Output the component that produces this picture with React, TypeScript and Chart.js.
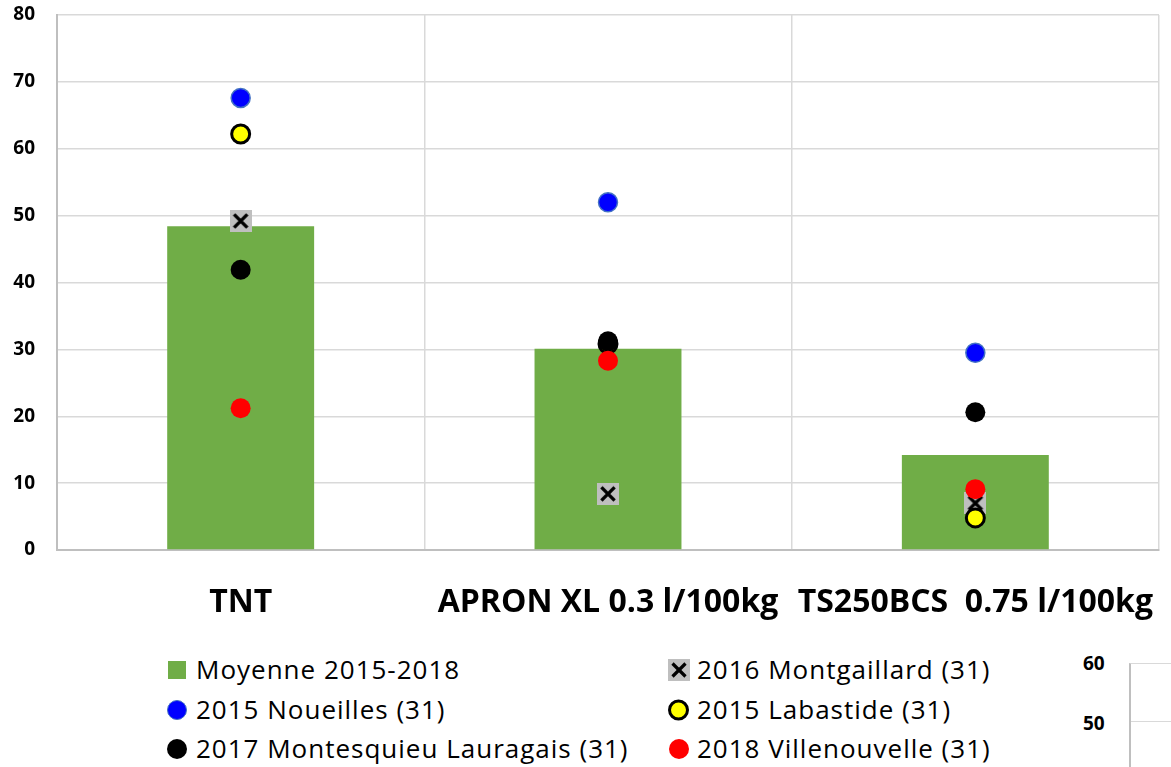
import React, { useEffect, useRef } from "react";
import { Chart, registerables } from "chart.js";

Chart.register(...registerables);

const categories = ["TNT", "APRON XL 0.3 l/100kg", "TS250BCS  0.75 l/100kg"];
const moyenne = [48.4, 30.1, 14.2];
const montgaillard2016 = [49.2, 8.4, 7.0];
const noueilles2015 = [67.6, 52.0, 29.5];
const labastide2015 = [62.2, 30.8, 4.8];
const montesquieu2017 = [41.9, 31.2, 20.6];
const villenouvelle2018 = [21.2, 28.3, 9.1];

const seriesNames = [
  "Moyenne 2015-2018",
  "2016 Montgaillard (31)",
  "2015 Noueilles (31)",
  "2015 Labastide (31)",
  "2017 Montesquieu Lauragais (31)",
  "2018 Villenouvelle (31)",
];

const FONT = "'Open Sans', 'Noto Sans', sans-serif";

function makeCrossMarker(size: number): HTMLCanvasElement {
  const c = document.createElement("canvas");
  c.width = size;
  c.height = size;
  const ctx = c.getContext("2d")!;
  ctx.fillStyle = "#BFBFBF";
  ctx.fillRect(0, 0, size, size);
  ctx.strokeStyle = "#000000";
  ctx.lineWidth = 3.4;
  const m = size * 0.2;
  ctx.beginPath();
  ctx.moveTo(m, m);
  ctx.lineTo(size - m, size - m);
  ctx.moveTo(size - m, m);
  ctx.lineTo(m, size - m);
  ctx.stroke();
  return c;
}

function LegendMarker({ kind }: { kind: string }) {
  const base: React.CSSProperties = { display: "block", boxSizing: "border-box" };
  if (kind === "bar") return <span style={{ ...base, width: 18, height: 18, background: "#70AD47" }} />;
  if (kind === "blue")
    return <span style={{ ...base, width: 20, height: 20, borderRadius: "50%", background: "#0000FF", border: "1.5px solid #4472C4" }} />;
  if (kind === "black") return <span style={{ ...base, width: 20, height: 20, borderRadius: "50%", background: "#000" }} />;
  if (kind === "red") return <span style={{ ...base, width: 20, height: 20, borderRadius: "50%", background: "#FF0000" }} />;
  if (kind === "yellow")
    return <span style={{ ...base, width: 21, height: 21, borderRadius: "50%", background: "#FFFF00", border: "3px solid #000" }} />;
  return (
    <span style={{ ...base, width: 22, height: 22, background: "#BFBFBF", position: "relative" }}>
      <svg width="22" height="22" style={{ position: "absolute", left: 0, top: 0 }}>
        <line x1="4.5" y1="4.5" x2="17.5" y2="17.5" stroke="#000" strokeWidth="3.2" />
        <line x1="17.5" y1="4.5" x2="4.5" y2="17.5" stroke="#000" strokeWidth="3.2" />
      </svg>
    </span>
  );
}

export default function App() {
  const ref = useRef<HTMLCanvasElement | null>(null);

  useEffect(() => {
    document.body.style.margin = "0";
    const cross = makeCrossMarker(22);
    const chart = new Chart(ref.current!, {
      type: "bar",
      data: {
        labels: categories,
        datasets: [
          {
            type: "bar",
            label: seriesNames[0],
            data: moyenne,
            backgroundColor: "#70AD47",
            barPercentage: 0.4,
            categoryPercentage: 1,
            order: 10,
          },
          {
            type: "line",
            label: seriesNames[1],
            data: montgaillard2016,
            showLine: false,
            pointStyle: cross as any,
            pointRadius: 11,
            order: 5,
          },
          {
            type: "line",
            label: seriesNames[2],
            data: noueilles2015,
            showLine: false,
            pointStyle: "circle",
            pointRadius: 9.5,
            pointBackgroundColor: "#0000FF",
            pointBorderColor: "#4472C4",
            pointBorderWidth: 1.5,
            order: 4,
          },
          {
            type: "line",
            label: seriesNames[3],
            data: labastide2015,
            showLine: false,
            pointStyle: "circle",
            pointRadius: 9,
            pointBackgroundColor: "#FFFF00",
            pointBorderColor: "#000000",
            pointBorderWidth: 3,
            order: 3,
          },
          {
            type: "line",
            label: seriesNames[4],
            data: montesquieu2017,
            showLine: false,
            pointStyle: "circle",
            pointRadius: 10,
            pointBackgroundColor: "#000000",
            pointBorderColor: "#000000",
            pointBorderWidth: 0,
            order: 2,
          },
          {
            type: "line",
            label: seriesNames[5],
            data: villenouvelle2018,
            showLine: false,
            pointStyle: "circle",
            pointRadius: 10,
            pointBackgroundColor: "#FF0000",
            pointBorderColor: "#FF0000",
            pointBorderWidth: 0,
            order: 1,
          },
        ],
      },
      options: {
        animation: false,
        responsive: false,
        maintainAspectRatio: false,
        layout: { padding: { top: 15, left: 0, right: 0, bottom: 0 } },
        plugins: { legend: { display: false }, tooltip: { enabled: false } },
        scales: {
          x: {
            grid: { color: "#D9D9D9", lineWidth: 1.5, offset: true, drawTicks: false },
            border: { color: "#BFBFBF", width: 2 },
            ticks: {
              color: "#000",
              font: { family: FONT, size: 32, weight: "bold" },
              padding: 34,
              maxRotation: 0,
              autoSkip: false,
            },
            afterFit: (axis: any) => {
              axis.height = 90;
              axis.paddingLeft = 0;
              axis.paddingRight = 0;
            },
          },
          y: {
            min: 0,
            max: 80,
            ticks: {
              stepSize: 10,
              color: "#000",
              font: { family: FONT, size: 19, weight: "bold" },
              padding: 22,
            },
            grid: { color: "#D9D9D9", lineWidth: 1.5, drawTicks: false },
            border: { color: "#BFBFBF", width: 2 },
            afterFit: (axis: any) => {
              axis.width = 57;
              axis.paddingTop = 0;
              axis.paddingBottom = 0;
            },
          },
        },
      },
    });
    return () => chart.destroy();
  }, []);

  const legendItems = [
    { kind: "bar", label: seriesNames[0], mx: 168, tx: 196, y: 670 },
    { kind: "cross", label: seriesNames[1], mx: 668, tx: 697, y: 670 },
    { kind: "blue", label: seriesNames[2], mx: 167, tx: 196, y: 710 },
    { kind: "yellow", label: seriesNames[3], mx: 668, tx: 697, y: 710 },
    { kind: "black", label: seriesNames[4], mx: 167, tx: 196, y: 749 },
    { kind: "red", label: seriesNames[5], mx: 669, tx: 697, y: 749 },
  ];

  return (
    <div style={{ position: "absolute", left: 0, top: 0, width: 1171, height: 767, overflow: "hidden", background: "#fff" }}>
      <canvas ref={ref} width={1171} height={640} style={{ position: "absolute", left: 0, top: 0 }} />
      {legendItems.map((it) => (
        <React.Fragment key={it.label}>
          <div style={{ position: "absolute", left: it.mx, top: it.y, transform: "translateY(-50%)" }}>
            <LegendMarker kind={it.kind} />
          </div>
          <div
            style={{
              position: "absolute",
              left: it.tx,
              top: it.y - 19,
              height: 36,
              lineHeight: "36px",
              fontFamily: FONT,
              fontSize: 26,
              letterSpacing: "1px",
              color: "#000",
              whiteSpace: "nowrap",
            }}
          >
            {it.label}
          </div>
        </React.Fragment>
      ))}
      <div style={{ position: "absolute", left: 1083, top: 651, lineHeight: "24px", fontFamily: FONT, fontWeight: "bold", fontSize: 19 }}>60</div>
      <div style={{ position: "absolute", left: 1083, top: 711, lineHeight: "24px", fontFamily: FONT, fontWeight: "bold", fontSize: 19 }}>50</div>
      <div style={{ position: "absolute", left: 1129, top: 663, width: 42, height: 104, borderLeft: "2px solid #BFBFBF", borderTop: "1.5px solid #D9D9D9", boxSizing: "border-box" }} />
      <div style={{ position: "absolute", left: 1131, top: 721, width: 40, height: 0, borderTop: "1.5px solid #D9D9D9" }} />
    </div>
  );
}
